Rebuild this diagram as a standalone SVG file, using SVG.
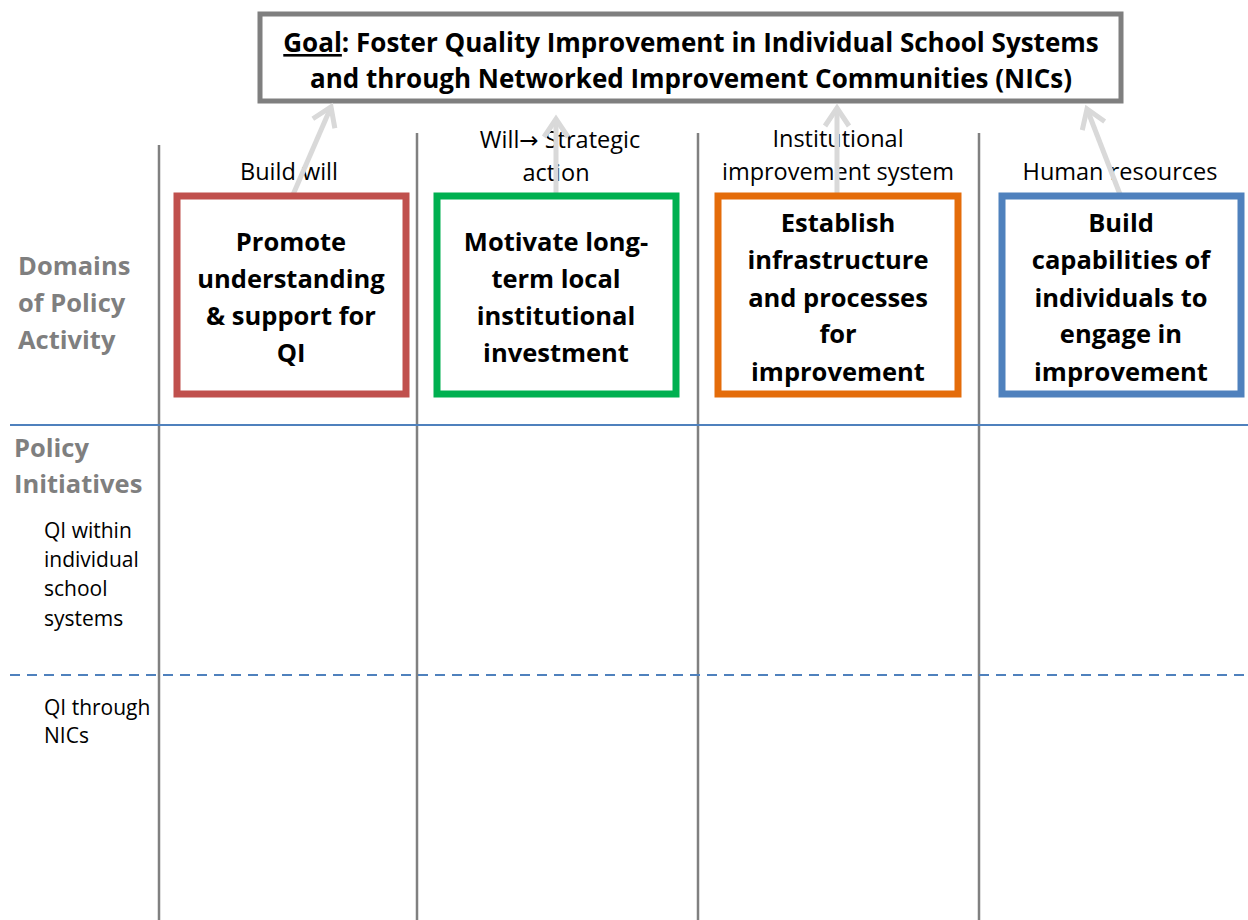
<svg xmlns="http://www.w3.org/2000/svg" width="1248" height="920" viewBox="0 0 1248 920">
<style>
text{font-family:"Open Sans","Noto Sans","Liberation Sans",sans-serif;}
.goal{font-size:26px;font-weight:bold;fill:#000;text-anchor:middle}
.box{font-size:25.5px;font-weight:bold;fill:#000;text-anchor:middle}
.lab{font-size:23.5px;fill:#000;text-anchor:middle}
.side{font-size:25.5px;font-weight:bold;fill:#7f7f7f}
.sub{font-size:21px;fill:#000}
.vl{stroke:#808080;stroke-width:2.5}
.arr{stroke:#d9d9d9;stroke-width:5;fill:none;marker-end:url(#ah)}
</style>
<defs>
<marker id="ah" markerWidth="6" markerHeight="6" refX="4.2" refY="3" orient="auto" markerUnits="strokeWidth" viewBox="0 0 6 6">
<polyline points="0.6,0.6 4.2,3 0.6,5.4" fill="none" stroke="#d9d9d9" stroke-width="1"/>
</marker>
</defs>
<rect width="1248" height="920" fill="#fff"/>
<g id="grid">
<line class="vl" x1="159" y1="145" x2="159" y2="920"/>
<line class="vl" x1="417" y1="133" x2="417" y2="920"/>
<line class="vl" x1="698" y1="133" x2="698" y2="920"/>
<line class="vl" x1="979" y1="133" x2="979" y2="920"/>
<line x1="10" y1="425" x2="1248" y2="425" stroke="#4f81bd" stroke-width="2"/>
<line x1="10" y1="675" x2="1248" y2="675" stroke="#4f81bd" stroke-width="2" stroke-dasharray="10,7"/>
</g>
<g id="goal">
<rect x="260" y="14" width="861" height="87" fill="#fff" stroke="#7f7f7f" stroke-width="5"/>
<text class="goal" x="691" y="52"><tspan text-decoration="underline">Goal</tspan>: Foster Quality Improvement in Individual School Systems</text>
<text class="goal" x="691" y="88">and through Networked Improvement Communities (NICs)</text>
</g>
<g id="labels">
<text class="lab" x="560" y="148">Will<tspan font-family="DejaVu Sans, sans-serif" font-size="23">→</tspan> Strategic</text>
<text class="lab" x="289" y="180">Build will</text>
<text class="lab" x="556" y="181">action</text>
<text class="lab" x="838" y="147">Institutional</text>
<text class="lab" x="838" y="180">improvement system</text>
<text class="lab" x="1120" y="180">Human resources</text>
</g>
<g id="connectors">
<line class="arr" x1="292" y1="197" x2="331" y2="107"/>
<line class="arr" x1="556" y1="197" x2="556" y2="119"/>
<line class="arr" x1="837" y1="197" x2="837" y2="108"/>
<line class="arr" x1="1121" y1="197" x2="1087" y2="109"/>
</g>
<g id="box-red">
<rect x="177" y="196" width="229" height="198" fill="#fff" stroke="#c0504d" stroke-width="7"/>
<text class="box" x="291" y="251">Promote</text>
<text class="box" x="291" y="288">understanding</text>
<text class="box" x="291" y="325">&amp; support for</text>
<text class="box" x="291" y="362">QI</text>
</g>
<g id="box-green">
<rect x="437" y="196" width="239" height="198" fill="#fff" stroke="#00b050" stroke-width="7"/>
<text class="box" x="556" y="251">Motivate long-</text>
<text class="box" x="556" y="288">term local</text>
<text class="box" x="556" y="325">institutional</text>
<text class="box" x="556" y="362">investment</text>
</g>
<g id="box-orange">
<rect x="718" y="196" width="240" height="198" fill="#fff" stroke="#e46c0a" stroke-width="7"/>
<text class="box" x="838" y="232">Establish</text>
<text class="box" x="838" y="269">infrastructure</text>
<text class="box" x="838" y="307">and processes</text>
<text class="box" x="838" y="343">for</text>
<text class="box" x="838" y="381">improvement</text>
</g>
<g id="box-blue">
<rect x="1002" y="196" width="239" height="198" fill="#fff" stroke="#4f81bd" stroke-width="7"/>
<text class="box" x="1121" y="232">Build</text>
<text class="box" x="1121" y="269">capabilities of</text>
<text class="box" x="1121" y="307">individuals to</text>
<text class="box" x="1121" y="343">engage in</text>
<text class="box" x="1121" y="381">improvement</text>
</g>
<g id="side">
<text class="side" x="18" y="275">Domains</text>
<text class="side" x="18" y="312">of Policy</text>
<text class="side" x="18" y="349">Activity</text>
<text class="side" x="14" y="457">Policy</text>
<text class="side" x="14" y="493">Initiatives</text>
<text class="sub" x="44" y="538">QI within</text>
<text class="sub" x="44" y="567">individual</text>
<text class="sub" x="44" y="596">school</text>
<text class="sub" x="44" y="626">systems</text>
<text class="sub" x="44" y="715">QI through</text>
<text class="sub" x="44" y="743">NICs</text>
</g>
</svg>
